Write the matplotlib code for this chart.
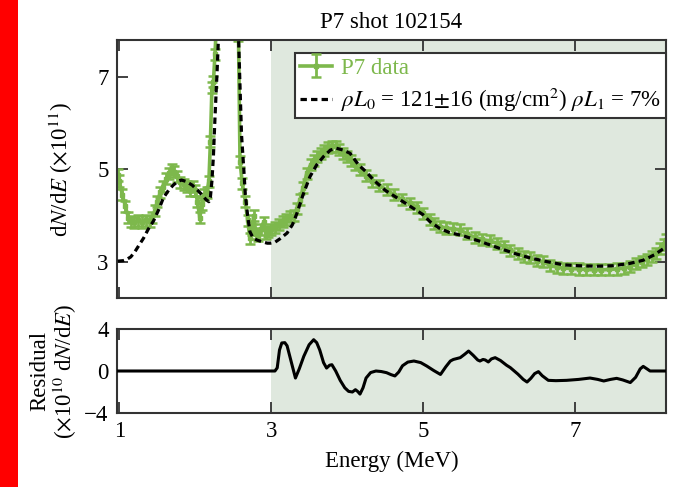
import matplotlib
matplotlib.use("Agg")
import matplotlib.pyplot as plt
from matplotlib.patches import Rectangle

plt.rcParams['font.family'] = ['Liberation Serif', 'DejaVu Serif']
plt.rcParams['mathtext.fontset'] = 'stix'
plt.rcParams['font.size'] = 16.5

# ---------------- data ----------------
title = "P7 shot 102154"

data_E = [0.98, 1.00, 1.04, 1.08, 1.12, 1.16, 1.20, 1.25, 1.30, 1.35, 1.40, 1.43, 1.47,
          1.50, 1.54, 1.58, 1.62, 1.66, 1.69, 1.72, 1.76, 1.80, 1.85, 1.89, 1.93, 1.97,
          2.00, 2.03, 2.06, 2.09, 2.12, 2.15, 2.18, 2.20, 2.22, 2.24, 2.26, 2.29, 2.32,
          2.40, 2.50, 2.55, 2.57, 2.59, 2.62, 2.66, 2.69, 2.72, 2.75, 2.77, 2.80, 2.83,
          2.86, 2.90, 2.93, 2.96, 3.00, 3.05, 3.10, 3.15, 3.20, 3.25, 3.30, 3.34, 3.38,
          3.42, 3.47, 3.52, 3.56, 3.60, 3.65, 3.70, 3.75, 3.80, 3.85, 3.90, 3.95, 4.00,
          4.05, 4.10, 4.17, 4.25, 4.33, 4.42, 4.52, 4.62, 4.72, 4.83, 4.92, 5.00, 5.09,
          5.15, 5.22, 5.30, 5.40, 5.49, 5.58, 5.68, 5.78, 5.88, 5.97, 6.06, 6.15, 6.25,
          6.33, 6.41, 6.50, 6.58, 6.67, 6.76, 6.85, 6.95, 7.05, 7.15, 7.25, 7.35, 7.45,
          7.55, 7.65, 7.72, 7.80, 7.88, 7.95, 8.02, 8.07, 8.12, 8.17, 8.20]
data_y = [4.88, 4.75, 4.45, 4.20, 3.95, 3.88, 3.85, 3.90, 3.86, 3.90, 3.88, 3.95, 4.10,
          4.30, 4.50, 4.62, 4.80, 4.92, 5.00, 4.95, 4.85, 4.72, 4.68, 4.62, 4.55, 4.62,
          4.55, 4.30, 3.95, 4.25, 4.45, 4.50, 4.74, 5.60, 6.77, 6.90, 7.50, 8.50, 10.0,
          12.0, 12.0, 9.00, 7.90, 5.17, 4.70, 4.30, 3.90, 3.51, 3.70, 4.00, 3.60, 3.56,
          3.70, 3.85, 3.60, 3.65, 3.70, 3.75, 3.80, 3.88, 3.92, 3.97, 4.00, 4.15, 4.34,
          4.60, 4.92, 5.10, 5.20, 5.28, 5.35, 5.42, 5.48, 5.50, 5.50, 5.43, 5.35, 5.28,
          5.20, 5.10, 4.99, 4.86, 4.75, 4.65, 4.56, 4.45, 4.35, 4.27, 4.18, 4.05, 3.92,
          3.82, 3.76, 3.73, 3.71, 3.69, 3.60, 3.53, 3.48, 3.45, 3.40, 3.33, 3.25, 3.17,
          3.12, 3.08, 3.02, 3.00, 2.92, 2.88, 2.86, 2.85, 2.84, 2.83, 2.82, 2.82, 2.83,
          2.84, 2.86, 2.89, 2.95, 3.00, 3.05, 3.12, 3.18, 3.28, 3.38, 3.47]
data_err = 0.12

fit_E = [0.98, 1.05, 1.10, 1.15, 1.20, 1.25, 1.32, 1.38, 1.45, 1.52, 1.58, 1.65, 1.71,
         1.77, 1.82, 1.88, 1.96, 2.03, 2.09, 2.14, 2.18, 2.20, 2.22, 2.24, 2.26, 2.29,
         2.31, 2.35, 2.45, 2.53, 2.57, 2.59, 2.61, 2.64, 2.66, 2.69, 2.72, 2.76, 2.81,
         2.88, 2.95, 2.99, 3.05, 3.12, 3.21, 3.28, 3.34, 3.42, 3.51, 3.60, 3.69, 3.78,
         3.86, 3.95, 4.04, 4.15, 4.25, 4.35, 4.50, 4.70, 4.85, 5.00, 5.09, 5.22, 5.35,
         5.53, 5.75, 5.97, 6.20, 6.41, 6.63, 6.85, 7.05, 7.29, 7.50, 7.72, 7.90, 8.05, 8.20]
fit_y = [3.01, 3.02, 3.05, 3.10, 3.20, 3.33, 3.51, 3.70, 3.88, 4.13, 4.38, 4.55, 4.66,
         4.74, 4.77, 4.74, 4.66, 4.55, 4.45, 4.35, 4.30, 4.40, 4.75, 5.30, 6.11, 7.20,
         8.00, 10.0, 12.0, 10.0, 7.90, 6.80, 5.75, 5.00, 4.45, 4.00, 3.65, 3.52, 3.47,
         3.43, 3.40, 3.40, 3.42, 3.50, 3.62, 3.80, 4.05, 4.45, 4.84, 5.10, 5.28, 5.42,
         5.46, 5.42, 5.35, 5.10, 4.95, 4.77, 4.55, 4.34, 4.18, 4.02, 3.87, 3.72, 3.63,
         3.56, 3.44, 3.31, 3.18, 3.08, 3.00, 2.93, 2.91, 2.90, 2.91, 2.96, 3.03, 3.15, 3.32]

res_E = [0.97, 3.05, 3.08, 3.11, 3.14, 3.18, 3.21, 3.26, 3.32, 3.37, 3.43, 3.50, 3.56,
         3.60, 3.64, 3.69, 3.73, 3.77, 3.80, 3.85, 3.91, 3.97, 4.02, 4.07, 4.11, 4.14,
         4.17, 4.21, 4.25, 4.31, 4.38, 4.45, 4.52, 4.58, 4.63, 4.68, 4.73, 4.80, 4.88,
         4.97, 5.05, 5.14, 5.23, 5.30, 5.36, 5.40, 5.49, 5.55, 5.60, 5.66, 5.72, 5.75,
         5.79, 5.82, 5.86, 5.90, 5.95, 6.02, 6.10, 6.15, 6.25, 6.32, 6.37, 6.42, 6.47,
         6.52, 6.57, 6.65, 6.75, 6.89, 7.05, 7.20, 7.30, 7.38, 7.47, 7.55, 7.63, 7.73,
         7.80, 7.86, 7.90, 7.95, 7.99, 8.20]
res_y = [0.0, 0.0, 0.3, 2.0, 2.67, 2.7, 2.4, 1.0, -0.67, 0.2, 1.4, 2.5, 2.98,
         2.7, 2.0, 0.8, 0.28, 0.55, 0.6, 0.0, -0.9, -1.6, -1.94, -2.0, -1.78, -1.95,
         -2.2, -1.6, -0.67, -0.15, 0.0, -0.05, -0.16, -0.35, -0.47, -0.1, 0.5, 0.85, 0.95,
         0.8, 0.47, 0.05, -0.33, 0.4, 0.95, 1.1, 1.27, 1.6, 1.9, 1.5, 1.05, 0.95,
         1.1, 1.05, 0.86, 1.15, 1.27, 1.0, 0.55, 0.32, -0.3, -0.8, -1.05, -0.7, -0.25,
         -0.06, -0.45, -0.89, -0.92, -0.89, -0.8, -0.67, -0.8, -0.95, -0.8, -0.7, -0.85, -1.1,
         -0.6, 0.2, 0.44, 0.2, 0.0, 0.0]

fit_region = (3.0, 8.2)
x_ticks = [1, 3, 5, 7]
top_yticks = [3, 5, 7]
res_yticks = [-4, 0, 4]

# ---------------- style ----------------
GREEN = '#7db84c'
SHADE = '#dfe8de'
SPINE = '#333333'

fig = plt.figure(figsize=(6.93, 4.87), dpi=100)
fig.patches.append(Rectangle((0, 0), 18 / 693, 1, transform=fig.transFigure,
                             facecolor='#ff0000', edgecolor='none', zorder=0))

ax = fig.add_axes([117 / 693, 1 - 298 / 487, 549 / 693, 258 / 487])
axr = fig.add_axes([117 / 693, 1 - 413 / 487, 549 / 693, 84 / 487], sharex=ax)

for a in (ax, axr):
    a.axvspan(*fit_region, color=SHADE, zorder=0, lw=0)
    for s in a.spines.values():
        s.set_linewidth(1.5)
        s.set_color(SPINE)
    a.tick_params(direction='in', length=8, width=1.3, color=SPINE,
                  top=True, right=True, labelsize=16.5, pad=6)

eb = ax.errorbar(data_E, data_y, yerr=data_err, color=GREEN, lw=2.6,
                 marker='s', ms=3, elinewidth=2.0, capsize=3.8, capthick=1.8,
                 label='P7 data', zorder=2)
fit_line, = ax.plot(fit_E, fit_y, color='black', lw=2.3, linestyle=(0, (2.0, 1.3)),
                    label=r'$\rho L_0$ = 121$\pm$16 (mg/cm$^2$) $\rho L_1$ = 7%', zorder=3)

ax.set_xlim(0.97, 8.2)
ax.set_ylim(2.21, 7.81)
ax.set_yticks(top_yticks)
ax.set_xticks(x_ticks)
ax.tick_params(labelbottom=False)
ax.set_ylabel(r'd$N$/d$E$ ($\times$10$^{11}$)', labelpad=16)
ax.set_title(title, fontsize=16.5, pad=9)

leg = ax.legend(handles=[eb, fit_line], loc='upper right', bbox_to_anchor=(1.0, 0.95),
                borderaxespad=0, fancybox=False, framealpha=1, edgecolor=SPINE,
                fontsize=16.5, handlelength=1.4, handletextpad=0.4, borderpad=0.2,
                labelspacing=0.3)
leg.get_frame().set_linewidth(1.5)
leg.get_texts()[0].set_color(GREEN)
leg.get_texts()[1].set_color('black')

axr.plot(res_E, res_y, color='black', lw=2.2, zorder=3)
axr.set_ylim(-4, 4)
axr.set_yticks(res_yticks)
axr.set_xticks(x_ticks)
axr.set_xlabel('Energy (MeV)', labelpad=6)
axr.set_ylabel('Residual\n' + r'($\times$10$^{10}$ d$N$/d$E$)', linespacing=1.0, labelpad=4)

fig.savefig('out.png', dpi=100)
